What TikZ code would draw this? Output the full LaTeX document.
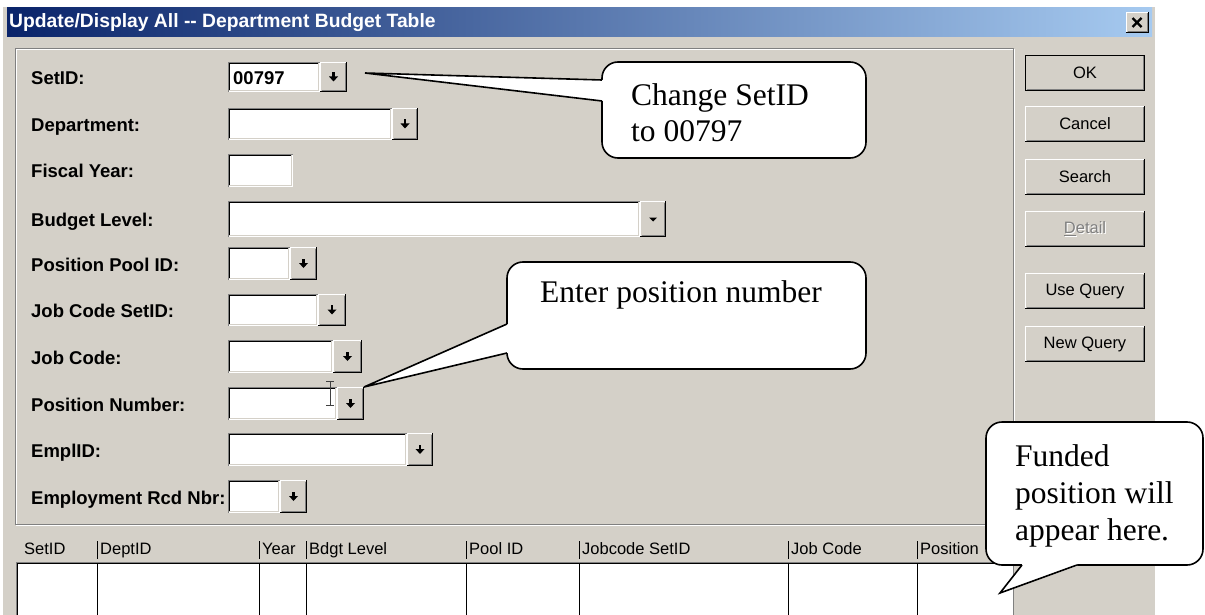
\documentclass[tikz,border=0pt]{standalone}
\usepackage{fontspec}
\setmainfont{Liberation Serif}
\setsansfont{Liberation Sans}
\usetikzlibrary{calc,positioning}
\definecolor{winface}{HTML}{D4D0C8}
\definecolor{winshadow}{HTML}{808080}
\definecolor{titledark}{HTML}{0A246A}
\definecolor{titlelight}{HTML}{A6CAF0}
\tikzset{
  lbl/.style={anchor=base west, inner sep=0pt, font=\sffamily\bfseries\fontsize{18.5}{20}\selectfont},
  fld/.style={fill=white, inner sep=0pt, outer sep=0pt, anchor=north west},
  btn/.style={fill=winface, inner sep=0pt, outer sep=0pt, anchor=north west},
  hdr/.style={anchor=base west, inner sep=0pt, font=\sffamily\fontsize{16.5}{18}\selectfont},
  cmd/.style={fill=winface, inner sep=0pt, outer sep=0pt, minimum width=120pt, minimum height=36pt,
    anchor=north west, font=\sffamily\fontsize{16.5}{18}\selectfont},
  balloon/.style={draw, fill=white, line width=1.6pt, rounded corners=16pt, inner sep=0pt, outer sep=0pt, anchor=north west},
  note/.style={anchor=base west, inner sep=0pt, align=left, font=\fontsize{31.5}{36.8}\selectfont},
}
\newcommand\raisedframe[1]{%
  \draw[white, line width=1pt] ([xshift=.5pt, yshift=1pt]#1.south west) |- ([xshift=-1pt, yshift=-.5pt]#1.north east);
  \draw[black, line width=1pt] ([yshift=.5pt]#1.south west) -| ([xshift=-.5pt]#1.north east);
  \draw[winshadow, line width=1pt] ([xshift=1.5pt, yshift=1.5pt]#1.south west) -| ([xshift=-1.5pt, yshift=-1.5pt]#1.north east);}
\newcommand\sunkenframe[1]{%
  \draw[winshadow, line width=1pt] ([xshift=.5pt]#1.south west) |- ([yshift=-.5pt]#1.north east);
  \draw[black, line width=1pt] ([xshift=1.5pt, yshift=1pt]#1.south west) |- ([xshift=-1pt, yshift=-1.5pt]#1.north east);
  \draw[winface, line width=1pt] ([xshift=1pt, yshift=1.5pt]#1.south west) -| ([xshift=-1.5pt, yshift=-1pt]#1.north east);}

\begin{document}
\begin{tikzpicture}[x=1pt, y=-1pt]
    \useasboundingbox (0,0) rectangle (1205,615);
    % window and title bar
    \fill[white] (0,0) rectangle (1205,615);
    \fill[winface] (2,6) rectangle (1155,615);
    \draw[white, line width=1pt] (2.5,615) -- (2.5,6.5) -- (1155,6.5);
    \shade[left color=titledark, right color=titlelight] (7,8) rectangle (1152,37);
    \node[anchor=west, inner sep=0pt, text=white, font=\sffamily\bfseries\fontsize{19.3}{21}\selectfont] (title) at (9,22.5)
        {Update/Display All {-}{-} Department Budget Table};
    \node[btn, minimum width=23pt, minimum height=21pt] (closebtn) at (1126,12) {};
    \raisedframe{closebtn}
    \draw[line width=2.2pt] ([shift={(-5,-4.5)}]closebtn.center) -- ([shift={(4,4.5)}]closebtn.center)
                            ([shift={(-5,4.5)}]closebtn.center) -- ([shift={(4,-4.5)}]closebtn.center);
    % group box
    \draw[white] (16,49) rectangle (1014,525);
    \draw[winshadow] (15,48) rectangle (1013,524);
    % search fields
    \foreach \nm/\txt/\ty/\tb/\fr/\br/\ar in {
        setid/SetID:/62/92/320/347/1,
        dept/Department:/108/140/392/418/1,
        fy/Fiscal Year:/154/187/293/293/0,
        blevel/Budget Level:/201/237/640/666/2,
        pool/Position Pool ID:/247/280/290/317/1,
        jcset/Job Code SetID:/294/326/318/346/1,
        jcode/Job Code:/340/373/333/362/1,
        posnum/Position Number:/387/420/337/364/1,
        empl/EmplID:/433/466/407/433/1,
        ercd/Employment Rcd Nbr:/480/513/280/307/1}{
      \pgfmathsetmacro\fw{\fr-228}
      \pgfmathsetmacro\fh{\tb-\ty}
      \pgfmathsetmacro\ly{(\ty+\tb)/2+7.5}
      \node[lbl] (\nm-lbl) at (31,\ly) {\txt};
      \node[fld, minimum width=\fw pt, minimum height=\fh pt] (\nm-fld) at (228,\ty) {};
      \sunkenframe{\nm-fld}
      \ifnum\ar>0
        \pgfmathsetmacro\bw{\br-\fr}
        \node[btn, minimum width=\bw pt, minimum height=\fh pt] (\nm-btn) at (\fr,\ty) {};
        \raisedframe{\nm-btn}
        \ifnum\ar=1
          \fill ([shift={(-1.4,-5)}]\nm-btn.center) rectangle ([shift={(1.4,0)}]\nm-btn.center);
          \fill ([shift={(-4.5,-0.5)}]\nm-btn.center) -- ([shift={(4.5,-0.5)}]\nm-btn.center)
                -- ([shift={(0,4.5)}]\nm-btn.center) -- cycle;
        \else
          \fill ([shift={(-4,-1.5)}]\nm-btn.center) -- ([shift={(4,-1.5)}]\nm-btn.center)
                -- ([shift={(0,2.5)}]\nm-btn.center) -- cycle;
        \fi
      \fi
    }
    \node[lbl] (setid-val) at (233,84.5) {00797};
    % text cursor
    \draw[black!75, line width=.8pt] (326,381) -- (334,381) (330,381) -- (330,405) (326,405) -- (334,405);
    % command buttons
    \foreach \nm/\txt/\ty in {ok/OK/55, cancel/Cancel/106, search/Search/159, usequery/Use Query/273, newquery/New Query/326}{
      \node[cmd] (\nm) at (1025,\ty) {\txt};
      \raisedframe{\nm}
    }
    \draw[line width=1pt] ([shift={(.5,-.5)}]ok.south west) rectangle ([shift={(-.5,.5)}]ok.north east);
    \node[cmd] (detail) at (1025,211) {};
    \raisedframe{detail}
    \node[inner sep=0pt, text=white, font=\sffamily\fontsize{16.5}{18}\selectfont] (detail-shade)
        at ([shift={(1,1)}]detail.center) {\underline{D}etail};
    \node[inner sep=0pt, text=winshadow, font=\sffamily\fontsize{16.5}{18}\selectfont] (detail-txt)
        at (detail.center) {\underline{D}etail};
    % result grid
    \foreach \nm/\txt/\x in {h-setid/SetID/24, h-dept/DeptID/100, h-year/Year/262, h-level/Bdgt Level/309,
        h-pool/Pool ID/469, h-jcset/Jobcode SetID/582, h-jcode/Job Code/791, h-pos/Position/920}
      \node[hdr] (\nm) at (\x,554) {\txt};
    \foreach \x in {97,259,306,466,579,788,917}
      \draw[line width=1pt] (\x,541) -- (\x,559);
    \fill[white] (16,562) rectangle (1013,616);
    \draw[winshadow, line width=1pt] (16.5,616) -- (16.5,562.5) -- (1013,562.5);
    \draw[black, line width=1pt] (17.5,616) -- (17.5,563.5) -- (1012,563.5);
    \draw[winshadow, line width=1pt] (1013.5,525) -- (1013.5,616);
    \foreach \x in {97,259,306,466,579,788,917}
      \draw[line width=1pt] (\x,564) -- (\x,616);
    % callouts (multi-line text sits on its last baseline)
    \node[balloon, minimum width=264pt, minimum height=96pt] (chg) at (602,62) {};
    \coordinate (chg-tip) at (365,73);
    \fill[white] ($(chg.north west)+(-1,18)$) -- (chg-tip) -- ($(chg.north west)+(-1,39)$)
        -- ($(chg.north west)+(4,39)$) -- ($(chg.north west)+(4,18)$) -- cycle;
    \draw[line width=1.6pt] ($(chg.north west)+(0,18)$) -- (chg-tip) -- ($(chg.north west)+(0,39)$);
    \node[note] (chg-txt) at (631,142) {Change SetID\\to 00797};

    \node[balloon, minimum width=359pt, minimum height=107pt] (enter) at (507,262) {};
    \fill[white] ($(enter.north west)+(-1,62)$) -- (posnum-btn.north east) -- ($(enter.north west)+(-1,91)$)
        -- ($(enter.north west)+(4,91)$) -- ($(enter.north west)+(4,62)$) -- cycle;
    \draw[line width=1.6pt] ($(enter.north west)+(0,62)$) -- (posnum-btn.north east) -- ($(enter.north west)+(0,91)$);
    \node[note] (enter-txt) at (540,302) {Enter position number};

    \node[balloon, minimum width=217pt, minimum height=143pt] (funded) at (986,422) {};
    \coordinate (funded-tip) at (1000,593);
    \fill[white] ($(funded.south west)+(36,1)$) -- (funded-tip) -- ($(funded.south west)+(91,1)$)
        -- ($(funded.south west)+(91,-4)$) -- ($(funded.south west)+(36,-4)$) -- cycle;
    \draw[line width=1.6pt] ($(funded.south west)+(36,0)$) -- (funded-tip) -- ($(funded.south west)+(91,0)$);
    \node[note] (funded-txt) at (1015,540) {Funded\\position will\\appear here.};
\end{tikzpicture}
\end{document}
